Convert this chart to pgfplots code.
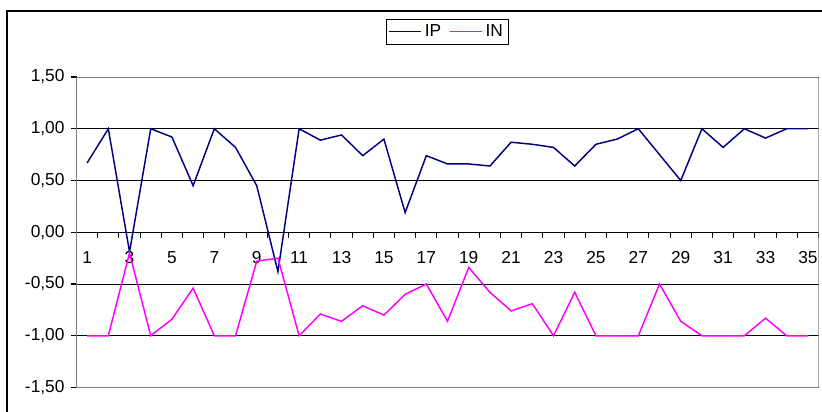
\documentclass[border=0pt]{standalone}
\usepackage{fontspec}
\setmainfont{Liberation Sans}
\usepackage{pgfplots}
\usepackage{pgfplotstable}
\pgfplotsset{compat=1.18}

\definecolor{ipblue}{RGB}{0,0,128}
\definecolor{inmag}{RGB}{255,0,255}
\definecolor{plotborder}{RGB}{128,128,128}

\pgfplotsset{
  iplegend/.style={legend image code/.code={%
    \draw[ipblue, line width=1.1pt] (0cm,0cm) -- (0.85cm,0cm);}},
  inlegend/.style={legend image code/.code={%
    \draw[inmag, line width=1.1pt] (0cm,0cm) -- (0.85cm,0cm);}},
}

\pgfplotstableread{
n ip in
1 0.67 -1.00
2 1.00 -1.00
3 -0.19 -0.20
4 1.00 -1.00
5 0.92 -0.84
6 0.45 -0.54
7 1.00 -1.00
8 0.82 -1.00
9 0.45 -0.28
10 -0.38 -0.25
11 1.00 -1.00
12 0.89 -0.79
13 0.94 -0.86
14 0.74 -0.71
15 0.90 -0.80
16 0.19 -0.60
17 0.74 -0.50
18 0.66 -0.86
19 0.66 -0.34
20 0.64 -0.58
21 0.87 -0.76
22 0.85 -0.69
23 0.82 -1.00
24 0.64 -0.58
25 0.85 -1.00
26 0.90 -1.00
27 1.00 -1.00
28 0.75 -0.50
29 0.50 -0.86
30 1.00 -1.00
31 0.82 -1.00
32 1.00 -1.00
33 0.91 -0.83
34 1.00 -1.00
35 1.00 -1.00
}\datatable

\begin{document}
\fontsize{13}{15}\selectfont
\begin{tikzpicture}
  \useasboundingbox (0pt,0pt) rectangle (616.5pt,308.25pt);
  % outer chart frame, cut off at the right and bottom like the screenshot
  \begin{scope}
    \clip (0pt,0pt) rectangle (616.5pt,308.25pt);
    \draw[line width=1.4pt] (5.25pt,-15pt) rectangle (630pt,300pt);
  \end{scope}
  \begin{axis}[
      at={(57.4pt,17.6pt)}, anchor=south west,
      scale only axis, width=556.5pt, height=232.9pt,
      xmin=0.5, xmax=35.5, ymin=-1.5, ymax=1.5,
      axis x line=middle, axis y line=left,
      x axis line style={-, black, line width=0.8pt},
      y axis line style={-, plotborder, line width=1.2pt},
      xtick={1,3,...,35},
      major x tick style={draw=none},
      minor xtick={0.5,1.5,...,35.5},
      minor x tick style={black, line width=0.8pt},
      xtick align=outside, minor tick length=4pt,
      x tick label style={yshift=-5.5pt},
      ytick={-1.5,-1,...,1.5},
      ytick align=outside, major tick length=4.5pt,
      y tick style={black, line width=0.8pt},
      ymajorgrids, grid style={black, line width=0.7pt},
      tick label style={font=\fontsize{13}{15}\selectfont},
      yticklabel style={/pgf/number format/.cd, fixed, fixed zerofill,
        precision=2, use comma},
      /pgf/number format/assume math mode=true,
      legend style={at={(0.4993,1.1466)}, anchor=center, draw=black,
        font=\fontsize{13}{15}\selectfont, inner sep=2pt},
      legend columns=2,
      /tikz/every even column/.append style={column sep=4pt},
    ]
    \addplot[draw=ipblue, line width=1.1pt, mark=none, iplegend]
      table[x=n, y=ip]{\datatable};
    \addlegendentry{IP}
    \addplot[draw=inmag, line width=1.1pt, mark=none, inlegend]
      table[x=n, y=in]{\datatable};
    \addlegendentry{IN}
    \draw[plotborder, line width=1.2pt] (rel axis cs:0,0) -- (rel axis cs:1,0)
      -- (rel axis cs:1,1) -- (rel axis cs:0,1);
  \end{axis}
\end{tikzpicture}
\end{document}
